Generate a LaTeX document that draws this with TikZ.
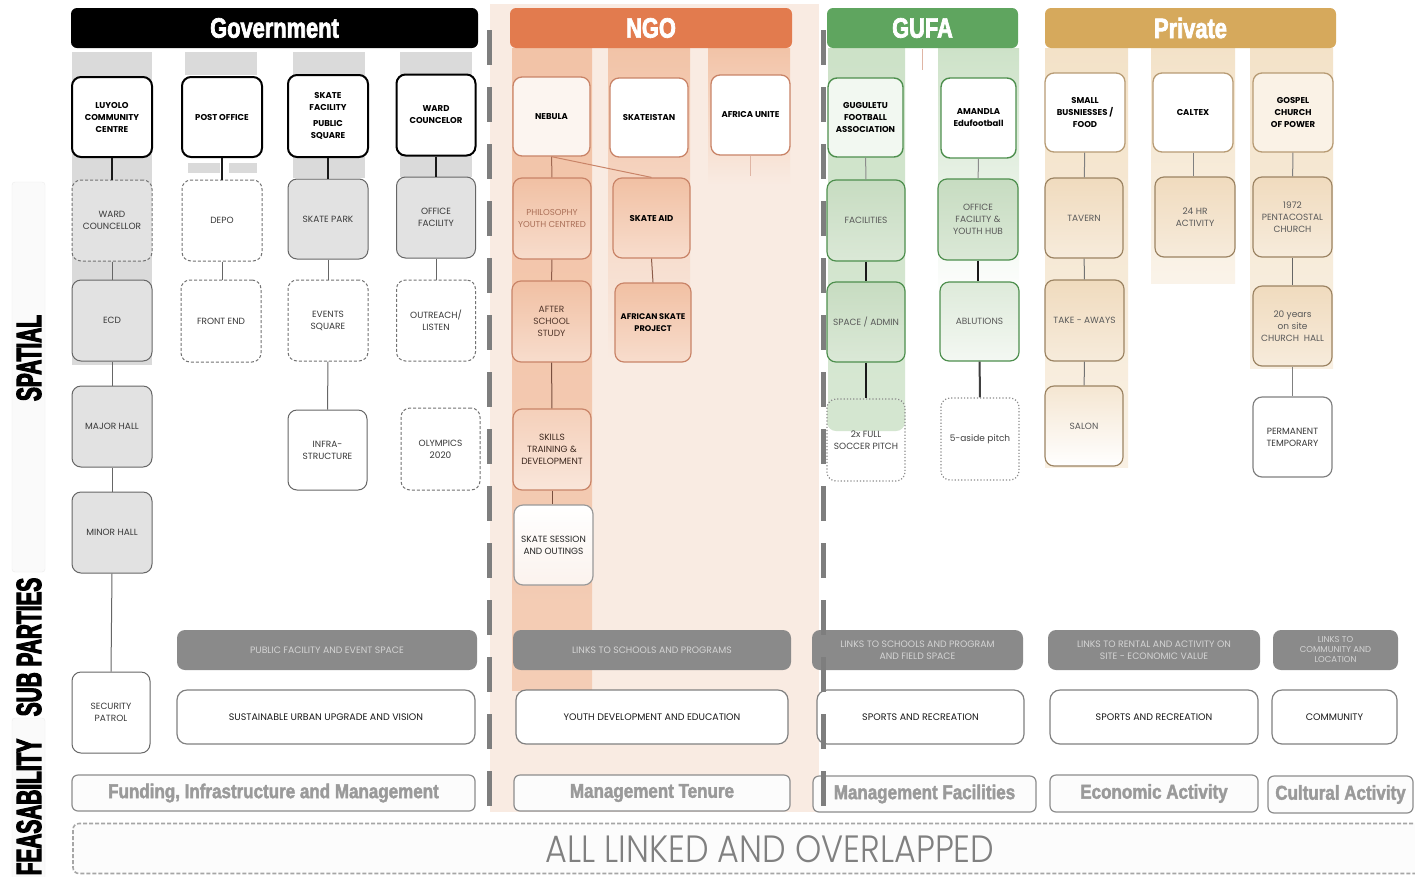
\documentclass[tikz,border=0pt]{standalone}
\usepackage{fontspec}
\usepackage{graphicx}
\setmainfont{Poppins}
\newfontfamily\boxfont{Poppins}
\newfontfamily\hdfont{Liberation Sans}[FakeStretch=0.78, FakeBold=2.5, UprightFont={* Bold}]
\newfontfamily\feasfont{Liberation Sans}[FakeStretch=0.85, FakeBold=2, UprightFont={* Bold}]
\newfontfamily\sidefont{Liberation Sans}[FakeStretch=0.595, FakeBold=3, UprightFont={* Bold}]
\newfontfamily\thinfont{Poppins Light}[FakeStretch=0.88]
\usetikzlibrary{calc}
\definecolor{govstrip}{HTML}{DADADA}
\definecolor{govfill}{HTML}{E2E2E2}
\definecolor{ngobg}{HTML}{F9EBE2}
\definecolor{ngohead}{HTML}{E27B4E}
\definecolor{ngostrip}{HTML}{F2C3A7}
\definecolor{ngoline}{HTML}{C98468}
\definecolor{ngofill}{HTML}{F1C0A3}
\definecolor{gufahead}{HTML}{5FA55F}
\definecolor{gufastrip}{HTML}{CDE2C8}
\definecolor{gufaline}{HTML}{4E8F4E}
\definecolor{gufafill}{HTML}{C7DCC1}
\definecolor{privhead}{HTML}{D6A95C}
\definecolor{privstrip}{HTML}{F3E2C8}
\definecolor{privline}{HTML}{B79B74}
\definecolor{privfill}{HTML}{F0DBBE}
\definecolor{barfill}{HTML}{8A8A8A}
\definecolor{bartext}{HTML}{D4D4D4}
\definecolor{sepcol}{HTML}{7E7E7E}
\definecolor{feastext}{HTML}{9A9A9A}
\tikzset{
 sz/.style 2 args={minimum width=#1pt, minimum height=#2pt},
 box/.style={rectangle, rounded corners=9pt, align=center, inner sep=1pt,
   font=\boxfont\fontsize{9}{12}\selectfont, text=black!78},
 bb/.style={font=\boxfont\bfseries\fontsize{8.5}{12}\selectfont, text=black},
 govtop/.style={box, bb, draw=black, line width=2pt, fill=white},
 govsolid/.style={box, draw=black!60, line width=1pt, fill=govfill},
 govwhite/.style={box, draw=black!60, line width=1pt, fill=white},
 govdash/.style={box, draw=black!55, line width=1pt, dash pattern=on 3pt off 2pt, fill=white},
 govdashg/.style={govdash, fill=govfill},
 ngotop/.style={box, bb, draw=ngoline, line width=1.3pt, fill=white},
 ngomid/.style={box, draw=ngoline, line width=1.2pt, top color=ngofill, bottom color=ngofill!55!white},
 ngolow/.style={box, draw=black!40, line width=1.2pt, top color=white, bottom color=ngobg!60!white, text=black!85},
 gufatop/.style={box, bb, draw=gufaline, line width=1.4pt, fill=white},
 gufamid/.style={box, draw=gufaline, line width=1.2pt, top color=gufafill, bottom color=gufafill!65!white, text=black!65},
 gufadot/.style={box, draw=black!45, line width=1.2pt, dotted, fill=white, text=black!75},
 privtop/.style={box, bb, draw=privline, line width=1.3pt, fill=white},
 privmid/.style={box, draw=privline!85!black, line width=1.2pt, top color=privfill, bottom color=privfill!55!white, text=black!65},
 head/.style={rectangle, rounded corners=6pt, font=\hdfont\fontsize{28}{30}\selectfont, text=white, minimum height=40pt, inner sep=0pt},
 bar/.style={rectangle, rounded corners=8pt, fill=barfill, text=bartext, align=center, inner sep=1pt, font=\boxfont\fontsize{9.3}{11.5}\selectfont, minimum height=40pt},
 sub/.style={rectangle, rounded corners=10pt, draw=black!50, line width=1.2pt, fill=white, font=\boxfont\fontsize{9.5}{11}\selectfont, text=black!90, minimum height=54pt},
 feas/.style={rectangle, rounded corners=6pt, draw=black!45, line width=1.2pt, fill=black!1, font=\feasfont\fontsize{20}{22}\selectfont, text=feastext, minimum height=36pt},
 lnkthick/.style={draw=black!90, line width=2pt},
 lnk/.style={draw=black!60, line width=1pt},
 side/.style={rotate=90, inner sep=0pt, font=\sidefont\fontsize{35}{36}\selectfont, text=black},
 sep/.style={draw=sepcol, line width=5pt, dash pattern=on 35pt off 22pt},
}
\begin{document}
\begin{tikzpicture}[x=1pt,y=-1pt]
\useasboundingbox (0,0) rectangle (1415,876);
\fill[white] (0,0) rectangle (1415,876);
% ---------- left labels
\draw[black!7, fill=black!2, rounded corners=3pt] (12,182) rectangle (45,572);
\draw[black!7, fill=black!2, rounded corners=3pt] (12,718) rectangle (45,880);
\node[side] (spatial) at (29,358) {SPATIAL};
\node[side] (subparties) at (29,647) {SUB PARTIES};
\node[side] (feasab) at (29,807) {FEASABILITY};
% ---------- backgrounds
\fill[ngobg] (490,4) rectangle (819,812);
% gov strips
\fill[govstrip] (72,52) rectangle (152,365);
\fill[govstrip] (185,52) rectangle (257,75);
\fill[govstrip] (188,163) rectangle (220,173);
\fill[govstrip] (229,163) rectangle (257,173);
\fill[govstrip] (293,52) rectangle (365,178);
\fill[govstrip] (400,52) rectangle (472,177);
% ngo strips
\shade[top color=ngostrip, bottom color=ngostrip!75!ngobg] (512,48) rectangle (592,690);
\shade[top color=ngostrip, bottom color=ngobg] (608,48) rectangle (690,360);
\shade[top color=ngostrip, bottom color=ngobg] (708,48) rectangle (790,185);
% gufa strips
\shade[top color=gufastrip, bottom color=gufastrip!80!white] (828,48) rectangle (905,430);
\shade[top color=gufastrip, bottom color=white] (938,48) rectangle (1019,300);
% private strips
\shade[top color=privstrip, bottom color=privstrip!50!white] (1045,48) rectangle (1128,467);
\shade[top color=privstrip, bottom color=privstrip!40!white] (1151,48) rectangle (1235,283);
\shade[top color=privstrip, bottom color=privstrip!50!white] (1250,48) rectangle (1333,368);
% ---------- headers
\node[head, fill=black, minimum width=407pt] (govhead) at (274.5,28) {Government};
\node[head, fill=ngohead, minimum width=282pt] (ngohd) at (651,28) {NGO};
\node[head, fill=gufahead, minimum width=191pt] (gufahd) at (922.5,28) {GUFA};
\node[head, fill=privhead, minimum width=291pt] (privhd) at (1190.5,28) {Private};
% ---------- Government boxes
\node[govtop, sz={80}{80}] (luyolo) at (112,117) {LUYOLO\\COMMUNITY\\CENTRE};
\node[govtop, sz={80}{80}] (post) at (222,117) {POST OFFICE};
\node[govtop, sz={80}{82}, font=\boxfont\bfseries\fontsize{8.5}{11.5}\selectfont] (skatefac) at (328,116) {SKATE\\FACILITY\\[5pt]PUBLIC\\SQUARE};
\node[govtop, sz={79}{81}] (wardc) at (436,115) {WARD\\COUNCELOR};
\node[govdashg, sz={80}{81}] (wardcl) at (112,220.5) {WARD\\COUNCELLOR};
\node[govdash, sz={80}{81}] (depo) at (222,220.5) {DEPO};
\node[govsolid, sz={80}{80}] (skatepark) at (328,219) {SKATE PARK};
\node[govsolid, sz={79}{81}] (office) at (436,217.5) {OFFICE\\FACILITY};
\node[govsolid, sz={80}{81}] (ecd) at (112,320.5) {ECD};
\node[govdash, sz={80}{82}] (frontend) at (221,321) {FRONT END};
\node[govdash, sz={80}{81}] (events) at (328,320.5) {EVENTS\\SQUARE};
\node[govdash, sz={79}{81}] (outreach) at (436,320.5) {OUTREACH/\\LISTEN};
\node[govsolid, sz={80}{81}] (major) at (112,426.5) {MAJOR HALL};
\node[govwhite, sz={79}{80}] (infra) at (327.5,450) {INFRA-\\STRUCTURE};
\node[govdash, sz={79}{82}] (olympics) at (440.5,449) {OLYMPICS\\2020};
\node[govsolid, sz={80}{81}] (minor) at (112,532.5) {MINOR HALL};
\node[govwhite, sz={78}{81}] (security) at (111,712.5) {SECURITY\\PATROL};
\draw[lnkthick] (luyolo) -- (wardcl);
\draw[lnkthick] (post) -- (depo);
\draw[lnkthick] (skatefac) -- (skatepark);
\draw[lnkthick] (wardc) -- (office);
\draw[lnk] (wardcl) -- (ecd);
\draw[lnk] (ecd) -- (major);
\draw[lnk] (major) -- (minor);
\draw[lnk] (minor.south) -- (security.north);
\draw[lnk] (depo.south) -- (frontend.north -| depo.south);
\draw[lnk] (skatepark) -- (events);
\draw[lnk] (events.south) -- (infra.north);
\draw[lnk] (office) -- (outreach);
\node[bar, minimum width=300pt] (pubfac) at (327,650) {PUBLIC FACILITY AND EVENT SPACE};
\node[sub, minimum width=298pt] (sustain) at (326,717) {SUSTAINABLE URBAN UPGRADE AND VISION};
\node[feas, minimum width=403pt] (funding) at (273.5,793) {Funding, Infrastructure and Management};
% ---------- NGO boxes
\node[ngotop, sz={77}{79}, fill=ngobg!50!white] (nebula) at (551.5,116.5) {NEBULA};
\node[ngotop, sz={78}{79}] (skateistan) at (649,117.5) {SKATEISTAN};
\node[ngotop, sz={79}{80}] (afunite) at (750.5,115) {AFRICA UNITE};
\coordinate (afstub) at (750.5,176);
\node[ngomid, sz={78}{81}, text=ngoline!85!black, font=\boxfont\fontsize{8.6}{12}\selectfont] (philo) at (552,218.5) {PHILOSOPHY\\YOUTH CENTRED};
\node[ngomid, bb, sz={77}{80}] (skateaid) at (651.5,218) {SKATE AID};
\node[ngomid, sz={79}{81}, text=black!60!ngoline] (after) at (551.5,321.5) {AFTER\\SCHOOL\\STUDY};
\node[ngomid, bb, sz={76}{79}, font=\boxfont\bfseries\fontsize{8.2}{12}\selectfont] (afskate) at (653,322.5) {AFRICAN SKATE\\PROJECT};
\node[ngomid, sz={78}{81}, top color=ngofill!75!white, bottom color=ngofill!40!white, text=black!70!ngoline] (skills) at (552,449.5) {SKILLS\\TRAINING \&\\DEVELOPMENT};
\node[ngolow, sz={79}{80}] (session) at (553.5,545) {SKATE SESSION\\AND OUTINGS};
\draw[draw=ngoline!80!black, line width=1pt] (nebula) -- (philo);
\draw[draw=ngoline, line width=1pt] (nebula.south) -- (skateaid.north);
\draw[draw=ngoline!70!black, line width=1pt] (philo) -- (after);
\draw[draw=ngoline!60!black, line width=1pt] (after) -- (skills);
\draw[draw=ngoline!60!black, line width=1pt] (skills.south) -- (session.north -| skills.south);
\draw[draw=ngoline!70!black, line width=1pt] (skateaid.south) -- (afskate.north);
\draw[draw=ngoline!60!white, line width=1pt] (afunite.south) -- (afstub);
\node[bar, minimum width=278pt] (ngobar) at (652,650) {LINKS TO SCHOOLS AND PROGRAMS};
\node[sub, minimum width=272pt] (youth) at (652,717) {YOUTH DEVELOPMENT AND EDUCATION};
\node[feas, minimum width=276pt] (tenure) at (652,793) {Management Tenure};
% ---------- GUFA boxes
\coordinate (gstubA) at (922,49);
\coordinate (gstubB) at (922,70);
\draw[ngoline!60!white, line width=0.8pt] (gstubA) -- (gstubB);
\node[gufatop, sz={75}{79}, fill=gufastrip!25!white] (gugu) at (865.5,117.5) {GUGULETU\\FOOTBALL\\ASSOCIATION};
\node[gufatop, sz={75}{80}] (amandla) at (978.5,118) {AMANDLA\\Edufootball};
\node[gufamid, sz={78}{81}] (facil) at (866,220.5) {FACILITIES};
\node[gufamid, sz={80}{81}] (offyouth) at (978,219.5) {OFFICE\\FACILITY \&\\YOUTH HUB};
\node[gufamid, sz={78}{80}] (spadmin) at (866,322) {SPACE / ADMIN};
\node[gufamid, sz={79}{79}, top color=gufafill!60!white, bottom color=gufafill!20!white] (ablut) at (979.5,321.5) {ABLUTIONS};
\node[gufadot, sz={78}{82}, path picture={\fill[gufastrip!85!white] (path picture bounding box.north west) rectangle ([yshift=9pt]path picture bounding box.east);}] (soccer) at (866,440) {2x FULL\\SOCCER PITCH};
\node[gufadot, sz={78}{82}] (fiveside) at (980,439) {5-aside pitch};
\draw[lnk, draw=black!45] (gugu) -- (facil);
\draw[lnk, draw=black!45] (amandla) -- (offyouth);
\draw[lnkthick] (facil) -- (spadmin);
\draw[lnkthick] (spadmin) -- (soccer);
\draw[lnkthick] (offyouth.south) -- (ablut.north -| offyouth.south);
\draw[lnkthick, draw=black!75] (ablut) -- (fiveside);
\node[bar, minimum width=211pt] (gufabar) at (917.5,650) {LINKS TO SCHOOLS AND PROGRAM\\AND FIELD SPACE};
\node[sub, minimum width=207pt] (sports1) at (920.5,717) {SPORTS AND RECREATION};
\node[feas, minimum width=223pt] (mgmtfac) at (924.5,794) {Management Facilities};
% ---------- Private boxes
\node[privtop, sz={80}{79}] (small) at (1085,112.5) {SMALL\\BUSNIESSES /\\FOOD};
\node[privtop, sz={80}{79}] (caltex) at (1193,112.5) {CALTEX};
\node[privtop, sz={80}{79}, fill=privstrip!45!white] (gospel) at (1293,112.5) {GOSPEL\\CHURCH\\OF POWER};
\node[privmid, sz={78}{80}] (tavern) at (1084,218) {TAVERN};
\node[privmid, sz={80}{80}] (hr24) at (1195,217) {24 HR\\ACTIVITY};
\node[privmid, sz={79}{80}] (pente) at (1292.5,217) {1972\\PENTACOSTAL\\CHURCH};
\node[privmid, sz={79}{81}] (takeaway) at (1084.5,320.5) {TAKE - AWAYS};
\node[privmid, sz={79}{80}] (chhall) at (1292.5,326) {20 years\\on site\\CHURCH\ \ HALL};
\node[privmid, sz={78}{80}, top color=privfill!70!white, bottom color=white] (salon) at (1084,426) {SALON};
\node[box, draw=black!50, line width=1.2pt, fill=white, sz={79}{80}] (perm) at (1292.5,437) {PERMANENT\\TEMPORARY};
\draw[lnk, draw=black!50] (small) -- (tavern);
\draw[lnk, draw=black!55] (tavern) -- (takeaway);
\draw[lnk, draw=black!55] (takeaway) -- (salon);
\draw[lnk, draw=black!50] (caltex.south) -- (hr24.north -| caltex.south);
\draw[lnk, draw=black!50] (gospel) -- (pente);
\draw[lnk, draw=black!60] (pente) -- (chhall);
\draw[lnk, draw=black!50] (chhall) -- (perm);
\node[bar, minimum width=212pt] (rental) at (1154,650) {LINKS TO RENTAL AND ACTIVITY ON\\SITE - ECONOMIC VALUE};
\node[bar, minimum width=125pt, font=\boxfont\fontsize{8.5}{10}\selectfont] (commlink) at (1335.5,650) {LINKS TO\\COMMUNITY AND\\LOCATION};
\node[sub, minimum width=208pt] (sports2) at (1154,717) {SPORTS AND RECREATION};
\node[sub, minimum width=125pt] (community) at (1334.5,717) {COMMUNITY};
\node[feas, minimum width=208pt, minimum height=37pt] (economic) at (1154,793.5) {Economic Activity};
\node[feas, minimum width=145pt, minimum height=37pt] (cultural) at (1340.5,794.5) {Cultural Activity};
% ---------- separators
\draw[sep] (489,30) -- (489,808);
\draw[sep] (823,30) -- (823,808);
% ---------- bottom band
\node[draw=black!35, dash pattern=on 4pt off 2pt, line width=1.6pt, rounded corners=6pt, fill=black!1, minimum width=1352pt, minimum height=50pt] (alllink) at (749,848.5) {};
\node[font=\thinfont\fontsize{38}{40}\selectfont, text=black!50, inner sep=0pt, anchor=base, text height=27pt, text depth=0pt] (alltext) at (770,862) {ALL LINKED AND OVERLAPPED};
\end{tikzpicture}
\end{document}
